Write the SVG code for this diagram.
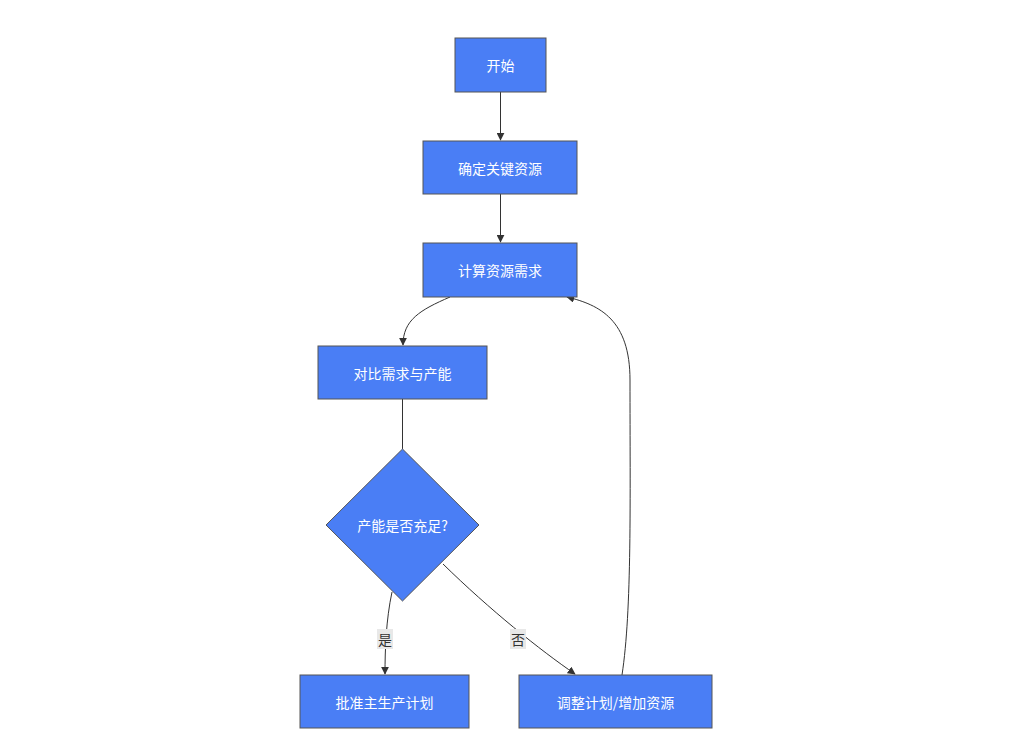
<svg xmlns="http://www.w3.org/2000/svg" width="1024" height="736" viewBox="0 0 1024 736">
<style>
.n{fill:#4a7ef5;stroke:#555;stroke-width:1}
.t{font-family:"Noto Sans CJK SC","Liberation Sans",sans-serif;font-size:14px;fill:#fff;text-anchor:middle;dominant-baseline:central}
.e{fill:none;stroke:#333;stroke-width:1}
.lb{fill:#e8e8e8}
.lt{font-family:"Noto Sans CJK SC","Liberation Sans",sans-serif;font-size:14px;fill:#333;text-anchor:middle;dominant-baseline:central}
</style>
<defs><marker id="a" viewBox="0 0 10 10" refX="9" refY="5" markerWidth="8" markerHeight="8" orient="auto"><path d="M0,0L10,5L0,10z" fill="#333"/></marker></defs>
<rect width="1024" height="736" fill="#fff"/>
<g id="connectors">
<path class="e" d="M500.5,92V140" marker-end="url(#a)"/>
<path class="e" d="M500.5,194V242" marker-end="url(#a)"/>
<path class="e" d="M450,297C420,310 403,320 403,345" marker-end="url(#a)"/>
<path class="e" d="M402.5,399V449"/>
<path class="e" d="M392,592C386,620 385,650 385,674" marker-end="url(#a)"/>
<path class="e" d="M443,564C490,610 540,650 575,674" marker-end="url(#a)"/>
<path class="e" d="M622,675C632,610 630,500 630,380C630,320 600,305 567,297" marker-end="url(#a)"/>
<rect class="lb" x="377" y="629" width="16" height="20"/><text class="lt" x="385" y="639">是</text>
<rect class="lb" x="510" y="629" width="16" height="20"/><text class="lt" x="518" y="639">否</text>
</g>
<g id="n1"><rect class="n" x="455" y="38" width="91" height="54"/><text class="t" x="500.5" y="65">开始</text></g>
<g id="n2"><rect class="n" x="423" y="141" width="154" height="53"/><text class="t" x="500" y="167.5">确定关键资源</text></g>
<g id="n3"><rect class="n" x="423" y="243" width="154" height="54"/><text class="t" x="500" y="270">计算资源需求</text></g>
<g id="n4"><rect class="n" x="318" y="346" width="169" height="53"/><text class="t" x="402.5" y="372.5">对比需求与产能</text></g>
<g id="n5"><polygon class="n" points="402.5,449 479,525 402.5,601 326,525"/><text class="t" x="402.5" y="525">产能是否充足?</text></g>
<g id="n6"><rect class="n" x="300" y="675" width="169" height="53"/><text class="t" x="384.5" y="701.5">批准主生产计划</text></g>
<g id="n7"><rect class="n" x="519" y="675" width="193" height="53"/><text class="t" x="615.5" y="701.5">调整计划/增加资源</text></g>
</svg>
